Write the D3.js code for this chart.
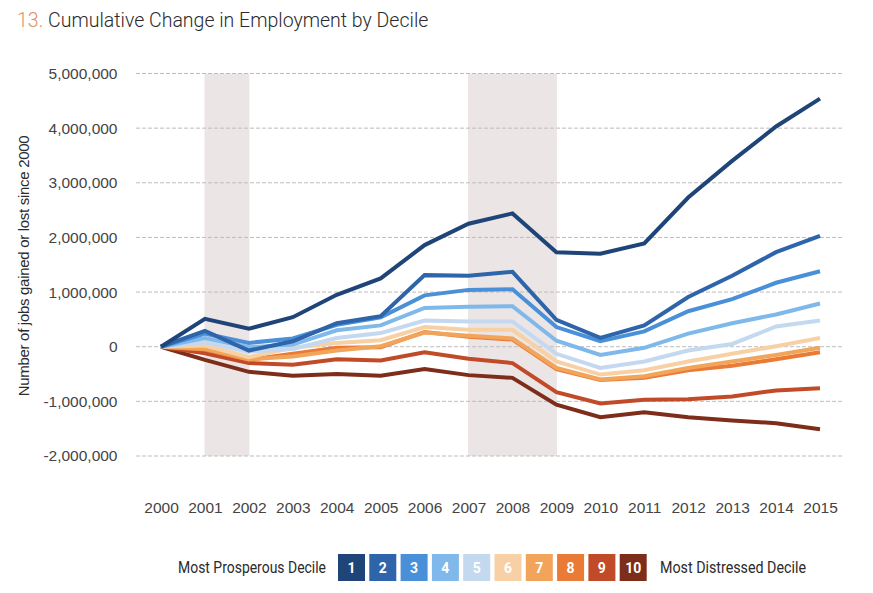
<!DOCTYPE html>
<html>
<head>
<meta charset="utf-8">
<script src="https://cdn.jsdelivr.net/npm/d3@7"></script>
<style>
  body { margin: 0; background: #fff; }
  svg { display: block; }
</style>
</head>
<body>
<div class="chart"></div>
<script>
var svgWidth = 873;
var svgHeight = 593;

// years on the x axis
var years = [2000, 2001, 2002, 2003, 2004, 2005, 2006, 2007, 2008, 2009, 2010, 2011, 2012, 2013, 2014, 2015];

// recession bands (start year, end year)
var recessions = [[2001, 2002], [2007, 2009]];

var yTicks = [5000000, 4000000, 3000000, 2000000, 1000000, 0, -1000000, -2000000];

// cumulative change, in millions, one array per decile
var decile1  = [0, 0.51, 0.33, 0.54, 0.95, 1.25, 1.86, 2.25, 2.44, 1.73, 1.70, 1.89, 2.73, 3.40, 4.03, 4.54];
var decile2  = [0, 0.29, -0.07, 0.10, 0.43, 0.56, 1.31, 1.30, 1.37, 0.49, 0.16, 0.39, 0.91, 1.30, 1.73, 2.03];
var decile3  = [0, 0.24, 0.07, 0.15, 0.40, 0.54, 0.94, 1.04, 1.05, 0.36, 0.10, 0.28, 0.65, 0.87, 1.17, 1.38];
var decile4  = [0, 0.16, -0.01, 0.04, 0.30, 0.39, 0.71, 0.73, 0.74, 0.11, -0.15, -0.02, 0.24, 0.43, 0.59, 0.79];
var decile5  = [0, 0.08, -0.09, -0.04, 0.16, 0.25, 0.48, 0.46, 0.46, -0.13, -0.39, -0.27, -0.07, 0.05, 0.37, 0.48];
var decile6  = [0, 0.02, -0.19, -0.02, 0.07, 0.12, 0.36, 0.31, 0.31, -0.27, -0.51, -0.43, -0.27, -0.13, 0.01, 0.16];
var decile7  = [0, -0.04, -0.23, -0.18, -0.07, 0.01, 0.26, 0.20, 0.15, -0.39, -0.60, -0.54, -0.39, -0.27, -0.15, -0.02];
var decile8  = [0, -0.05, -0.24, -0.13, -0.02, -0.01, 0.27, 0.18, 0.13, -0.41, -0.61, -0.57, -0.43, -0.35, -0.23, -0.10];
var decile9  = [0, -0.12, -0.30, -0.33, -0.23, -0.25, -0.10, -0.22, -0.30, -0.83, -1.04, -0.97, -0.96, -0.91, -0.80, -0.76];
var decile10 = [0, -0.24, -0.46, -0.53, -0.50, -0.53, -0.41, -0.52, -0.57, -1.06, -1.29, -1.20, -1.29, -1.35, -1.40, -1.51];

var deciles = [decile1, decile2, decile3, decile4, decile5, decile6, decile7, decile8, decile9, decile10];
var colors = ["#1f4478", "#2e64a9", "#4a90d9", "#7fb8ea", "#c4d8f0",
              "#f7d1a5", "#f1a45a", "#e97b37", "#c14b29", "#7e2d1b"];

var svg = d3.select(".chart")
  .append("svg")
  .attr("width", svgWidth)
  .attr("height", svgHeight);

var xScale = d3.scaleLinear()
  .domain([2000, 2015])
  .range([161, 820]);

var yScale = d3.scaleLinear()
  .domain([-2000000, 5000000])
  .range([456, 73.5]);

var axisFont = "'Liberation Sans', Arial, sans-serif";
var legendFont = "Roboto, sans-serif";

// title
var title = svg.append("text")
  .attr("x", 17)
  .attr("y", 27)
  .style("font-family", legendFont)
  .style("font-size", "19.5px")
  .style("font-weight", 300);
title.append("tspan").attr("fill", "#e0916a").text("13. ");
title.append("tspan").attr("fill", "#2b2b2b").text("Cumulative Change in Employment by Decile");

// recession shading
svg.selectAll("rect.band")
  .data(recessions)
  .enter()
  .append("rect")
  .attr("class", "band")
  .attr("x", d => xScale(d[0]) - 0.5)
  .attr("width", d => xScale(d[1]) - xScale(d[0]) + 1)
  .attr("y", yScale(5000000))
  .attr("height", yScale(-2000000) - yScale(5000000))
  .attr("fill", "#ebe6e5");

// gridlines
svg.selectAll("line.grid")
  .data(yTicks)
  .enter()
  .append("line")
  .attr("class", "grid")
  .attr("x1", 136)
  .attr("x2", 842)
  .attr("y1", d => yScale(d))
  .attr("y2", d => yScale(d))
  .attr("stroke", "#bdbdbd")
  .attr("stroke-width", 1)
  .attr("stroke-dasharray", "4,2");

// y axis (plain hyphen for negatives, like the original)
var fmt = d3.format(",");
var leftAxis = d3.axisLeft(yScale)
  .tickValues(yTicks)
  .tickSize(0)
  .tickPadding(0)
  .tickFormat(d => fmt(d).replace("\u2212", "-"));

var yAxis = svg.append("g")
  .attr("transform", "translate(117.5, 0)")
  .call(leftAxis);
yAxis.select(".domain").remove();
yAxis.selectAll("text")
  .attr("fill", "#444")
  .style("font-family", axisFont)
  .style("font-size", "15.5px");

// x axis
var bottomAxis = d3.axisBottom(xScale)
  .tickValues(years)
  .tickSize(0)
  .tickPadding(0)
  .tickFormat(d3.format("d"));

var xAxis = svg.append("g")
  .attr("transform", "translate(0, 502)")
  .call(bottomAxis);
xAxis.select(".domain").remove();
xAxis.selectAll("text")
  .attr("fill", "#444")
  .style("font-family", axisFont)
  .style("font-size", "15.5px");

// y axis title
svg.append("text")
  .attr("transform", "translate(29, 266) rotate(-90)")
  .attr("text-anchor", "middle")
  .attr("fill", "#2b2b2b")
  .style("font-family", axisFont)
  .style("font-size", "15px")
  .style("letter-spacing", "-0.3px")
  .text("Number of jobs gained or lost since 2000");

// lines, decile 10 first so decile 1 sits on top
var line = d3.line()
  .x((d, i) => xScale(years[i]))
  .y(d => yScale(d * 1000000));

var order = d3.range(deciles.length).reverse();
svg.selectAll("path.decile")
  .data(order)
  .enter()
  .append("path")
  .attr("class", "decile")
  .attr("d", i => line(deciles[i]))
  .attr("fill", "none")
  .attr("stroke", i => colors[i])
  .attr("stroke-width", 4)
  .attr("stroke-linejoin", "miter");

// legend
var legend = svg.append("g");

legend.append("text")
  .attr("x", 178)
  .attr("y", 572.5)
  .attr("textLength", 148)
  .attr("lengthAdjust", "spacingAndGlyphs")
  .attr("fill", "#2b2b2b")
  .style("font-family", legendFont)
  .style("font-size", "16px")
  .text("Most Prosperous Decile");

var boxes = legend.selectAll("g.box")
  .data(colors)
  .enter()
  .append("g")
  .attr("class", "box")
  .attr("transform", (d, i) => `translate(${338 + i * 31.3}, 554)`);

boxes.append("rect")
  .attr("width", 27)
  .attr("height", 27)
  .attr("fill", d => d);

boxes.append("text")
  .attr("x", 13.5)
  .attr("y", 19)
  .attr("text-anchor", "middle")
  .attr("fill", "#fff")
  .style("font-family", legendFont)
  .style("font-size", "14px")
  .style("font-weight", 700)
  .text((d, i) => i + 1);

legend.append("text")
  .attr("x", 660)
  .attr("y", 572.5)
  .attr("textLength", 146)
  .attr("lengthAdjust", "spacingAndGlyphs")
  .attr("fill", "#2b2b2b")
  .style("font-family", legendFont)
  .style("font-size", "16px")
  .text("Most Distressed Decile");
</script>
</body>
</html>
